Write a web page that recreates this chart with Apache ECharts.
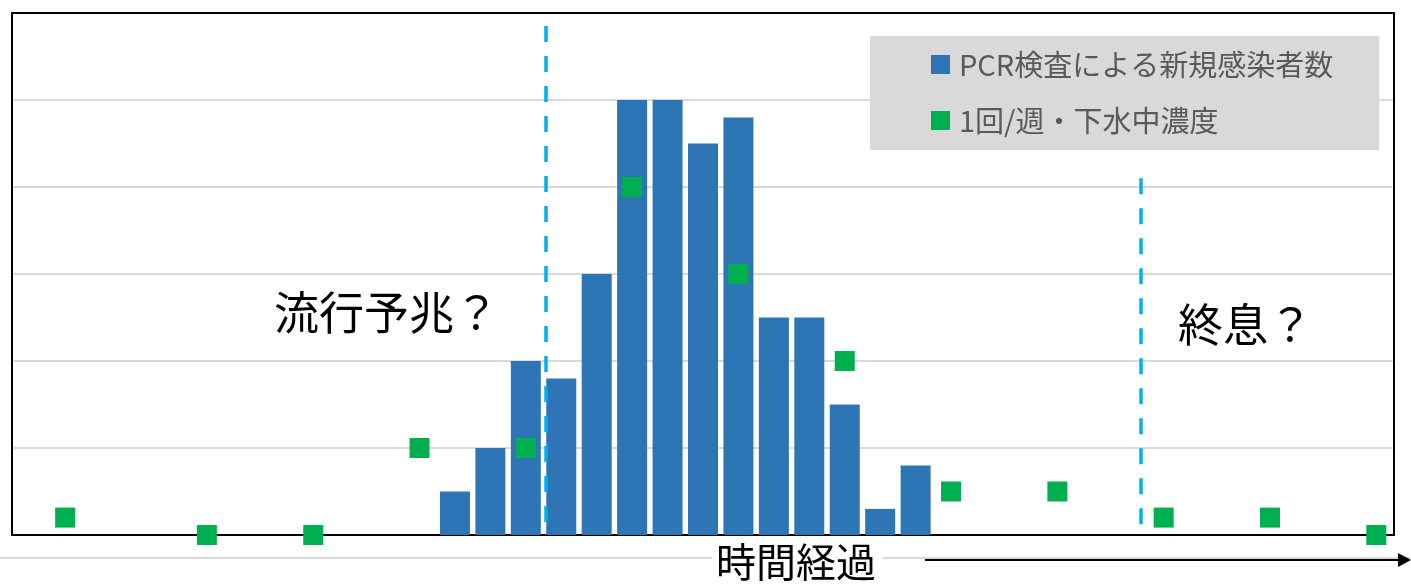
<!DOCTYPE html>
<html>
<head>
<meta charset="utf-8">
<script src="https://cdn.jsdelivr.net/npm/echarts@6/dist/echarts.min.js"></script>
<style>
html,body{margin:0;padding:0;background:#fff;}
#c{width:1411px;height:584px;}
</style>
</head>
<body>
<div id="c"></div>
<script>
// time steps (x index) and values
var caseWeeks = [11, 12, 13, 14, 15, 16, 17, 18, 19, 20, 21, 22, 23, 24];
var caseCounts = [0.5, 1.0, 2.0, 1.8, 3.0, 5.0, 5.0, 4.5, 4.8, 2.5, 2.5, 1.5, 0.3, 0.8];
var sewageWeeks = [0, 4, 7, 10, 13, 16, 19, 22, 25, 28, 31, 34, 37];
var sewageLevels = [0.2, 0, 0, 1.0, 1.0, 4.0, 3.0, 2.0, 0.5, 0.5, 0.2, 0.2, 0];
// annotation dashed lines: [x, yTop, yBottom]
var onsetLine = [13.57, 5.85, 0.08];
var endLine = [30.36, 4.1, 0.08];
var seriesNames = ['PCR検査による新規感染者数', '1回/週・下水中濃度'];
var annotations = ['流行予兆？', '終息？', '時間経過'];

var FONT = '"Noto Sans CJK JP", "Noto Sans", sans-serif';

var barData = caseWeeks.map(function (w, i) { return [w, caseCounts[i]]; });
var scatterData = sewageWeeks.map(function (w, i) { return [w, sewageLevels[i]]; });

var frameAxis = {
  axisLine: { show: true, onZero: false, lineStyle: { color: '#000', width: 2 } },
  axisTick: { show: false }, axisLabel: { show: false }, splitLine: { show: false }
};

var chart = echarts.init(document.getElementById('c'), null, { renderer: 'canvas' });
chart.setOption({
  backgroundColor: '#ffffff',
  animation: false,
  textStyle: { fontFamily: FONT },
  grid: { left: 12, right: 17, top: 13, bottom: 49 },
  legend: {
    orient: 'vertical',
    left: 870, top: 36,
    backgroundColor: '#D9D9D9',
    padding: [14, 46, 15, 61],
    itemGap: 27,
    itemWidth: 19, itemHeight: 19,
    icon: 'rect',
    textStyle: { fontSize: 29, color: '#595959', fontFamily: FONT, padding: [0, 0, 0, 4] },
    data: seriesNames
  },
  xAxis: [
    Object.assign({ type: 'value', min: -1.5, max: 37.5, position: 'bottom' }, frameAxis),
    Object.assign({ type: 'value', min: -1.5, max: 37.5, position: 'top' }, frameAxis)
  ],
  yAxis: [
    {
      type: 'value', min: 0, max: 6, interval: 1, position: 'left',
      axisLine: { show: true, onZero: false, lineStyle: { color: '#000', width: 2 } },
      axisTick: { show: false }, axisLabel: { show: false },
      splitLine: { show: true, lineStyle: { color: '#D9D9D9', width: 2 } }
    },
    Object.assign({ type: 'value', min: 0, max: 6, interval: 1, position: 'right' }, frameAxis)
  ],
  series: [
    {
      name: seriesNames[0], type: 'bar', data: barData, barWidth: 30,
      itemStyle: { color: '#2E75B6' }, z: 2
    },
    {
      name: seriesNames[1], type: 'scatter', data: scatterData,
      symbol: 'rect', symbolSize: 20, clip: false,
      itemStyle: { color: '#00B050', opacity: 1 }, z: 4,
      markLine: {
        silent: true, symbol: ['none', 'none'], label: { show: false },
        lineStyle: { color: '#00B0F0', width: 3.5, type: [16, 14], opacity: 1 },
        data: [
          [{ coord: [onsetLine[0], onsetLine[1]] }, { coord: [onsetLine[0], onsetLine[2]] }],
          [{ coord: [endLine[0], endLine[1]] }, { coord: [endLine[0], endLine[2]] }]
        ]
      }
    }
  ],
  graphic: [
    { type: 'line', z: 0, shape: { x1: 0, y1: 558, x2: 1411, y2: 558 }, style: { stroke: '#D9D9D9', lineWidth: 2 } },
    { type: 'text', left: 274, top: 290, style: { text: annotations[0], font: '45px ' + FONT, fill: '#000' } },
    { type: 'text', left: 1178, top: 302, style: { text: annotations[1], font: '45px ' + FONT, fill: '#000' } },
    { type: 'rect', z: 5, shape: { x: 712, y: 545, width: 170, height: 39 }, style: { fill: '#fff' } },
    { type: 'text', z: 6, left: 716, top: 542, style: { text: annotations[2], font: '40px ' + FONT, fill: '#000' } },
    { type: 'line', z: 6, shape: { x1: 925, y1: 560, x2: 1400, y2: 560 }, style: { stroke: '#000', lineWidth: 2 } },
    { type: 'polygon', z: 6, shape: { points: [[1398, 553], [1411, 560], [1398, 567]] }, style: { fill: '#000' } }
  ]
});
</script>
</body>
</html>
